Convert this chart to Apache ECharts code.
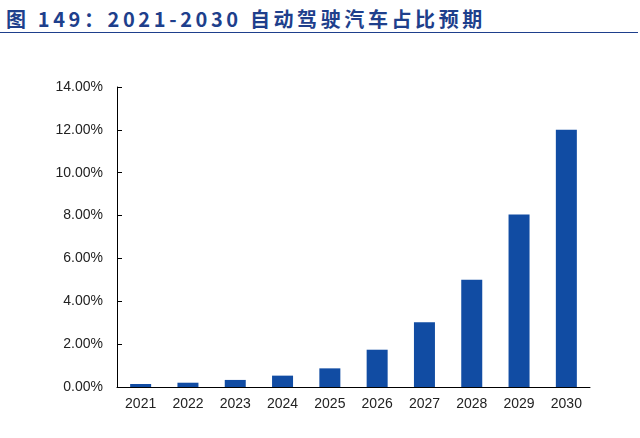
<!DOCTYPE html>
<html><head><meta charset="utf-8">
<script src="https://cdn.jsdelivr.net/npm/echarts@6/dist/echarts.min.js"></script>
<style>body{margin:0;background:#fff}#t{font:bold 20px "Noto Sans CJK SC";letter-spacing:3.6px;color:#1e3f8c;padding:4px 0 0 6px;height:28px;border-bottom:1px solid #1e3f8c;width:632px;white-space:nowrap}</style>
</head><body>
<div id="t">图 149：2021-2030 自动驾驶汽车占比预期</div>
<div id="c" style="width:640px;height:405px"></div>
<script>
var years = ['2021','2022','2023','2024','2025','2026','2027','2028','2029','2030'];
var shares = [0.14,0.2,0.33,0.53,0.87,1.74,3.02,5.0,8.05,12.0];
var chart = echarts.init(document.getElementById('c'));
chart.setOption({
  animation:false,
  grid:{left:117,right:50,top:54,bottom:51},
  xAxis:{type:'category',data:years,
    axisLine:{lineStyle:{color:'#000'}},
    axisTick:{inside:true,length:5,lineStyle:{color:'#000'}},
    axisLabel:{color:'#222',fontSize:14,fontFamily:'Liberation Sans',margin:10}},
  yAxis:{type:'value',min:0,max:14,interval:2,
    axisLine:{show:true,lineStyle:{color:'#000'}},
    axisTick:{show:true,inside:true,length:5,lineStyle:{color:'#000'}},
    splitLine:{show:false},
    axisLabel:{color:'#222',fontSize:14,fontFamily:'Liberation Sans',margin:14,formatter:function(v){return v.toFixed(2)+'%';}}},
  series:[{type:'bar',data:shares,barWidth:21,itemStyle:{color:'#114ca3'}}]
});
</script></body></html>
